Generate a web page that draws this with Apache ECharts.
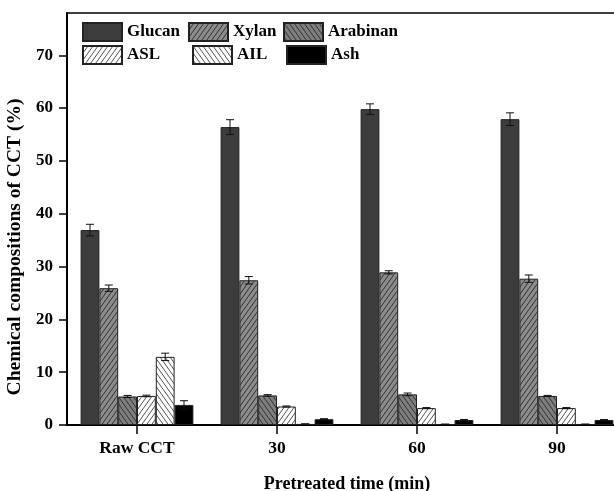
<!DOCTYPE html>
<html>
<head>
<meta charset="utf-8">
<script src="https://cdn.jsdelivr.net/npm/echarts@6/dist/echarts.min.js"></script>
<style>html,body{margin:0;padding:0;background:#fff;}#c{width:614px;height:491px;}</style>
</head>
<body>
<div id="c"></div>
<script>
var categories = ['Raw CCT', '30', '60', '90'];
var seriesNames = ['Glucan', 'Xylan', 'Arabinan', 'ASL', 'AIL', 'Ash'];
var glucan = [36.9, 56.4, 59.8, 57.9];
var glucanErr = [1.1, 1.4, 1.0, 1.2];
var xylan = [25.9, 27.4, 28.9, 27.7];
var xylanErr = [0.6, 0.7, 0.3, 0.7];
var arabinan = [5.4, 5.6, 5.8, 5.5];
var arabinanErr = [0.2, 0.15, 0.25, 0.1];
var asl = [5.5, 3.5, 3.2, 3.2];
var aslErr = [0.15, 0.1, 0.1, 0.1];
var ail = [12.9, 0.2, 0.15, 0.15];
var ailErr = [0.7, 0, 0, 0];
var ash = [3.8, 1.1, 0.95, 0.95];
var ashErr = [0.8, 0.1, 0.1, 0.1];
var yTicks = [0, 10, 20, 30, 40, 50, 60, 70];

var values = [glucan, xylan, arabinan, asl, ail, ash];
var errs = [glucanErr, xylanErr, arabinanErr, aslErr, ailErr, ashErr];

function hatch(bg, fg, dir) {
  var w = 5, h = 7;
  var cv = document.createElement('canvas');
  cv.width = w; cv.height = h;
  var ctx = cv.getContext('2d');
  ctx.fillStyle = bg; ctx.fillRect(0, 0, w, h);
  ctx.strokeStyle = fg; ctx.lineWidth = 1;
  for (var dx = -w; dx <= w; dx += w) {
    ctx.beginPath();
    if (dir > 0) { ctx.moveTo(dx, h); ctx.lineTo(dx + w, 0); }
    else { ctx.moveTo(dx, 0); ctx.lineTo(dx + w, h); }
    ctx.stroke();
  }
  return { image: cv, repeat: 'repeat' };
}

var fills = [
  '#3c3c3c',
  hatch('#8c8c8c', '#333333', 1),
  hatch('#7e7e7e', '#333333', -1),
  hatch('#ffffff', '#555555', 1),
  hatch('#ffffff', '#555555', -1),
  '#000000'
];

var BW = 18.8;
var font = 'Liberation Serif';
var series = [];
seriesNames.forEach(function (n, k) {
  series.push({
    name: n, type: 'bar', data: values[k], barWidth: BW, barGap: '0%',
    itemStyle: { color: fills[k], borderColor: '#222', borderWidth: 1 },
    z: 2
  });
});
seriesNames.forEach(function (n, k) {
  series.push({
    name: 'err-' + n, type: 'custom', z: 5,
    data: categories.map(function (c, i) { return [i, values[k][i], errs[k][i]]; }),
    renderItem: function (params, api) {
      var ci = api.value(0), v = api.value(1), e = api.value(2);
      var c = api.coord([ci, v]);
      var hi = api.coord([ci, v + e]);
      var lo = api.coord([ci, v - e]);
      var x = c[0] + (k - 2.5) * BW;
      var st = { stroke: '#111', lineWidth: 1 };
      return { type: 'group', children: [
        { type: 'line', shape: { x1: x, y1: hi[1], x2: x, y2: lo[1] }, style: st },
        { type: 'line', shape: { x1: x - 4, y1: hi[1], x2: x + 4, y2: hi[1] }, style: st },
        { type: 'line', shape: { x1: x - 4, y1: lo[1], x2: x + 4, y2: lo[1] }, style: st }
      ] };
    }
  });
});

var legendPos = [[82, 22], [188, 22], [283, 22], [82, 45], [192, 45], [286, 45]];
var legends = seriesNames.map(function (n, k) {
  return {
    data: [n], left: legendPos[k][0], top: legendPos[k][1], padding: 0,
    itemWidth: 39, itemHeight: 18, icon: 'rect', selectedMode: false,
    textStyle: { fontFamily: font, fontWeight: 'bold', fontSize: 17, color: '#000' }
  };
});

var chart = echarts.init(document.getElementById('c'), null, { renderer: 'canvas' });
chart.setOption({
  backgroundColor: '#fff',
  animation: false,
  legend: legends,
  grid: { left: 67, top: 13, width: 560, bottom: 66, show: true, borderColor: '#000', borderWidth: 1.5,
    containLabel: false, outerBoundsMode: 'none' },
  xAxis: {
    type: 'category', data: categories,
    name: 'Pretreated time (min)', nameLocation: 'middle', nameGap: 50,
    nameTextStyle: { fontFamily: font, fontWeight: 'bold', fontSize: 18, color: '#000' },
    axisLine: { show: true, lineStyle: { color: '#000', width: 2 } },
    axisTick: { show: true, interval: 0, alignWithLabel: true, length: 9, lineStyle: { color: '#000', width: 1.5 } },
    axisLabel: { margin: 14, interval: 0, fontFamily: font, fontWeight: 'bold', fontSize: 17.5, color: '#000' }
  },
  yAxis: {
    type: 'value', min: 0, max: 78, interval: 10,
    name: 'Chemical compositions of CCT (%)', nameLocation: 'middle', nameGap: 39,
    nameTextStyle: { fontFamily: font, fontWeight: 'bold', fontSize: 19.5, color: '#000', padding: [0, 56, 0, 0] },
    axisLine: { show: true, lineStyle: { color: '#000', width: 2 } },
    axisTick: { show: true, length: 8, customValues: yTicks, lineStyle: { color: '#000', width: 1.5 } },
    axisLabel: { margin: 14, customValues: yTicks, fontFamily: font, fontWeight: 'bold', fontSize: 17, color: '#000',
      formatter: function (v) { return yTicks.indexOf(v) >= 0 ? String(v) : ''; } },
    splitLine: { show: false }
  },
  series: series
});
</script>
</body>
</html>
